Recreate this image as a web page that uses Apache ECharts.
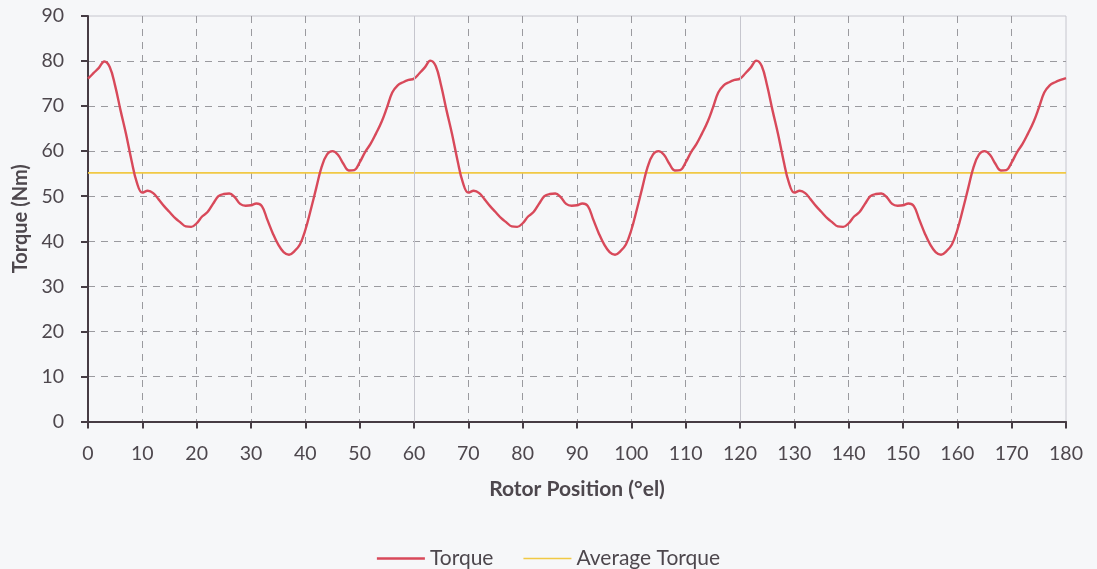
<!DOCTYPE html>
<html>
<head>
<meta charset="utf-8">
<script src="https://cdn.jsdelivr.net/npm/echarts@6/dist/echarts.min.js"></script>
<style>
html,body{margin:0;padding:0;background:#f6f7f9;}
#chart{width:1097px;height:569px;}
</style>
</head>
<body>
<div id="chart"></div>
<script>
// Rotor position (°el), one sample per degree
const positions = [
0,1,2,3,4,5,6,7,8,9,10,11,12,13,14,15,16,17,18,19,20,21,22,23,24,25,26,27,28,29,
30,31,32,33,34,35,36,37,38,39,40,41,42,43,44,45,46,47,48,49,50,51,52,53,54,55,56,57,58,59,
60,61,62,63,64,65,66,67,68,69,70,71,72,73,74,75,76,77,78,79,80,81,82,83,84,85,86,87,88,89,
90,91,92,93,94,95,96,97,98,99,100,101,102,103,104,105,106,107,108,109,110,111,112,113,114,115,116,117,118,119,
120,121,122,123,124,125,126,127,128,129,130,131,132,133,134,135,136,137,138,139,140,141,142,143,144,145,146,147,148,149,
150,151,152,153,154,155,156,157,158,159,160,161,162,163,164,165,166,167,168,169,170,171,172,173,174,175,176,177,178,179,180
];
// Torque (Nm)
const torque = [
76.1,77.3,78.5,79.9,78.7,74.5,69.0,63.8,58.0,53.0,50.8,51.2,50.7,49.3,47.8,46.5,45.2,44.2,43.3,43.2,
44.0,45.5,46.5,48.3,50.0,50.5,50.6,49.8,48.3,47.9,48.0,48.4,47.8,44.8,41.8,39.3,37.6,37.0,37.8,39.3,
42.5,47.0,51.8,56.5,59.3,60.0,59.2,57.2,55.7,55.8,57.5,59.8,61.6,63.9,66.4,69.6,73.0,74.6,75.3,75.8,
76.1,77.3,78.6,80.1,78.9,74.5,69.0,63.8,58.0,53.0,50.8,51.2,50.7,49.3,47.8,46.5,45.2,44.2,43.3,43.2,
44.0,45.5,46.5,48.3,50.0,50.5,50.6,49.8,48.3,47.9,48.0,48.4,47.8,44.8,41.8,39.3,37.6,37.0,37.8,39.3,
42.5,47.0,51.8,56.5,59.3,60.0,59.2,57.2,55.7,55.8,57.5,59.8,61.6,63.9,66.4,69.6,73.0,74.6,75.3,75.8,
76.1,77.3,78.6,80.1,78.9,74.5,69.0,63.8,58.0,53.0,50.8,51.2,50.7,49.3,47.8,46.5,45.2,44.2,43.3,43.2,
44.0,45.5,46.5,48.3,50.0,50.5,50.6,49.8,48.3,47.9,48.0,48.4,47.8,44.8,41.8,39.3,37.6,37.0,37.8,39.3,
42.5,47.0,51.8,56.5,59.3,60.0,59.2,57.2,55.7,55.8,57.5,59.8,61.6,63.9,66.4,69.6,73.0,74.6,75.3,75.8,
76.2
];
const averageTorque = 55.2;
const xTicks = [0,10,20,30,40,50,60,70,80,90,100,110,120,130,140,150,160,170,180];
const yTicks = [0,10,20,30,40,50,60,70,80,90];
const solidX = [60,120];

const font = 'Lato, "Open Sans", sans-serif';
const textColor = '#4d474d';
const dashColor = '#9a9a9f';
const lightLine = '#c6c6ce';

const xSplitColors = xTicks.map(t => (t === 0 || t === 180 || solidX.indexOf(t) >= 0) ? 'rgba(0,0,0,0)' : dashColor);
const ySplitColors = yTicks.map(t => (t === 0 || t === 90) ? 'rgba(0,0,0,0)' : dashColor);

const chart = echarts.init(document.getElementById('chart'));
chart.setOption({
  backgroundColor: '#f6f7f9',
  animation: false,
  textStyle: {fontFamily: font},
  grid: {left: 88, right: 31, top: 16, bottom: 147.5, show: true, borderColor: lightLine, borderWidth: 1, backgroundColor: 'rgba(0,0,0,0)'},
  legend: {
    top: 543, left: 'center',
    itemWidth: 48, itemHeight: 14, itemGap: 30,
    textStyle: {fontFamily: font, fontSize: 21, color: textColor},
    data: [{name: 'Torque', icon: 'path://M0,0 L48,0 L48,2.4 L0,2.4 Z'}, {name: 'Average Torque', icon: 'path://M0,0 L48,0 L48,1.5 L0,1.5 Z'}]
  },
  xAxis: {
    type: 'value', min: 0, max: 180, interval: 10,
    name: 'Rotor Position (°el)', nameLocation: 'middle', nameGap: 57,
    nameTextStyle: {fontFamily: font, fontSize: 21, fontWeight: 'bold', color: textColor},
    axisLine: {show: true, onZero: false, lineStyle: {color: '#463c44', width: 2}},
    axisTick: {show: true, length: 7, lineStyle: {color: '#463c44', width: 2}},
    axisLabel: {margin: 22, fontSize: 19.5, color: textColor, fontFamily: font},
    splitLine: {show: true, lineStyle: {type: [7, 6], color: xSplitColors, width: 1}}
  },
  yAxis: {
    type: 'value', min: 0, max: 90, interval: 10,
    name: 'Torque (Nm)', nameLocation: 'middle', nameGap: 56,
    nameTextStyle: {fontFamily: font, fontSize: 20, fontWeight: 'bold', color: textColor},
    axisLine: {show: true, lineStyle: {color: '#463c44', width: 2}},
    axisTick: {show: true, length: 7, lineStyle: {color: '#463c44', width: 2}},
    axisLabel: {margin: 24, fontSize: 19.5, color: textColor, fontFamily: font},
    splitLine: {show: true, lineStyle: {type: [7, 6], color: ySplitColors, width: 1}}
  },
  series: [
    {
      name: 'Torque', type: 'line', symbol: 'none', smooth: 0.4,
      data: positions.map((p, i) => [p, torque[i]]),
      lineStyle: {color: '#d8495a', width: 2.4},
      itemStyle: {color: '#d8495a'},
      z: 3,
      markLine: {
        silent: true, symbol: 'none', label: {show: false},
        lineStyle: {type: 'solid', color: lightLine, width: 1},
        data: solidX.map(v => ({xAxis: v}))
      }
    },
    {
      name: 'Average Torque', type: 'line', symbol: 'none',
      data: [[0, averageTorque], [180, averageTorque]],
      lineStyle: {color: '#f1c945', width: 1.8},
      itemStyle: {color: '#f1c945'},
      z: 2
    }
  ]
});
</script>
</body>
</html>
